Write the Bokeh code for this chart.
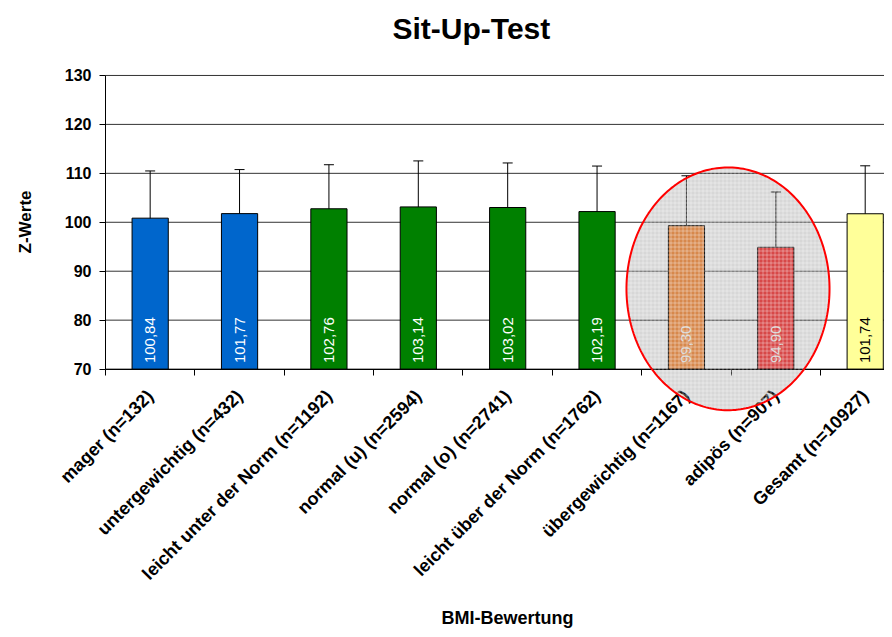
import numpy as np
from bokeh.plotting import figure
from bokeh.models import ColumnDataSource, FixedTicker, Whisker, PolyAnnotation, Range1d, Title
from bokeh.core.properties import value
from bokeh.embed import file_html
from bokeh.resources import INLINE

# ---- data ----
categories = ["mager (n=132)", "untergewichtig (n=432)", "leicht unter der Norm (n=1192)",
              "normal (u) (n=2594)", "normal (o) (n=2741)", "leicht über der Norm (n=1762)",
              "übergewichtig (n=1167)", "adipös (n=907)", "Gesamt (n=10927)"]
means = [100.84, 101.77, 102.76, 103.14, 103.02, 102.19, 99.30, 94.90, 101.74]
sds = [9.65, 9.0, 9.0, 9.4, 9.1, 9.3, 10.2, 11.3, 9.8]
value_labels = ["100,84", "101,77", "102,76", "103,14", "103,02", "102,19", "99,30", "94,90", "101,74"]
bar_colors = ["#0066CC", "#0066CC", "#008000", "#008000", "#008000", "#008000",
              "#FF9646", "#FF4040", "#FFFF99"]
label_colors = ["white"] * 8 + ["black"]
y_ticks = [70, 80, 90, 100, 110, 120, 130]
BASE = 70
# the frame is larger than the axes so that the highlight ellipse, the tick labels and the
# slanted category labels (drawn by the axes placed at x=0 / y=70) are not cut off
X_VIEW = (-0.727, 8.716)
Y_VIEW = (22.1, 132.65)

# highlight ellipse (data units): centre between übergewichtig and adipös
ell_cx, ell_cy, ell_a, ell_b = 6.965, 86.4, 1.136, 24.8

FONT = "Liberation Sans"
n = len(categories)
centers = [i + 0.5 for i in range(n)]
bounds = [float(i) for i in range(n + 1)]

src = ColumnDataSource(dict(
    x=centers, mean=means,
    upper=[m + s for m, s in zip(means, sds)],
    lower=[m - s for m, s in zip(means, sds)],
    color=bar_colors, label=value_labels, lcolor=label_colors,
))

p = figure(width=884, height=629, x_range=Range1d(*X_VIEW), y_range=Range1d(*Y_VIEW),
           output_backend="svg", toolbar_location=None, title=None,
           min_border_left=40, min_border_right=0, min_border_top=62, min_border_bottom=0)
p.outline_line_color = None
p.background_fill_color = "white"
p.border_fill_color = "white"

# titles (spacer keeps the main title where the reference has it)
p.add_layout(Title(text=" ", text_font_size="1px", standoff=11), "above")
p.add_layout(Title(text="Sit-Up-Test", text_font=FONT, text_font_size="30px", text_font_style="bold",
                   text_color="black", align="left", offset=352, standoff=8), "above")
p.add_layout(Title(text="BMI-Bewertung", text_font=FONT, text_font_size="18px", text_font_style="bold",
                   text_color="black", align="left", offset=401, standoff=4), "below")

# horizontal grid lines at the value ticks, starting at the value axis
p.xgrid.grid_line_color = None
p.ygrid.grid_line_color = None
p.segment(x0=bounds[0], x1=X_VIEW[1], y0=y_ticks, y1=y_ticks,
          line_color="#333333", line_width=1, level="underlay")

# y axis, drawn at x = 0
p.yaxis.fixed_location = 0
p.yaxis.ticker = FixedTicker(ticks=y_ticks)
p.yaxis.bounds = (y_ticks[0], y_ticks[-1])
p.yaxis.major_label_text_font = FONT
p.yaxis.major_label_text_font_size = "16px"
p.yaxis.major_label_text_font_style = "bold"
p.yaxis.major_label_text_color = "black"
p.yaxis.major_label_standoff = 8
p.yaxis.major_tick_in = 0
p.yaxis.major_tick_out = 6
p.yaxis.minor_tick_line_color = None
p.yaxis.axis_line_color = "black"
p.add_layout(Title(text="Z-Werte", text_font=FONT, text_font_size="17px", text_font_style="bold",
                   text_color="black", align="right", offset=128, standoff=12), "left")

# x axis, drawn at y = 70
p.xaxis.fixed_location = BASE
p.xaxis.bounds = (bounds[0], bounds[-1])
p.xaxis.ticker = FixedTicker(ticks=centers, minor_ticks=bounds)
p.xaxis.major_label_overrides = {c: cat for c, cat in zip(centers, categories)}
p.xaxis.major_label_orientation = np.pi / 4
p.xaxis.major_label_text_font = FONT
p.xaxis.major_label_text_font_size = "18px"
p.xaxis.major_label_text_font_style = "bold"
p.xaxis.major_label_text_color = "black"
p.xaxis.major_label_standoff = 18
p.xaxis.major_tick_line_color = None
p.xaxis.minor_tick_in = 0
p.xaxis.minor_tick_out = 6
p.xaxis.minor_tick_line_color = "black"
p.xaxis.axis_line_color = "black"

p.vbar(x="x", top="mean", bottom=BASE, width=0.405, source=src,
       fill_color="color", line_color="black", line_width=1)

p.text(x="x", y=BASE, text="label", angle=np.pi / 2, source=src,
       text_align="left", text_baseline="middle", text_color="lcolor",
       text_font=value(FONT), text_font_size="15px", y_offset=-6)

w = Whisker(base="x", upper="upper", lower="lower", source=src,
            line_color="black", line_width=1)
w.upper_head.size = 10
w.lower_head.size = 10
w.upper_head.line_color = "black"
w.lower_head.line_color = "black"
p.add_layout(w)

t = np.linspace(0, 2 * np.pi, 240)
ell = PolyAnnotation(xs=list(ell_cx + ell_a * np.cos(t)), ys=list(ell_cy + ell_b * np.sin(t)),
                     xs_units="data", ys_units="data", level="overlay",
                     fill_color="#606060", fill_alpha=0.25,
                     hatch_pattern="+", hatch_color="white", hatch_alpha=0.35,
                     hatch_scale=4, hatch_weight=1,
                     line_color="#FF0000", line_alpha=1.0, line_width=2)
p.add_layout(ell)

open("out.html", "w").write(file_html(p, INLINE))
